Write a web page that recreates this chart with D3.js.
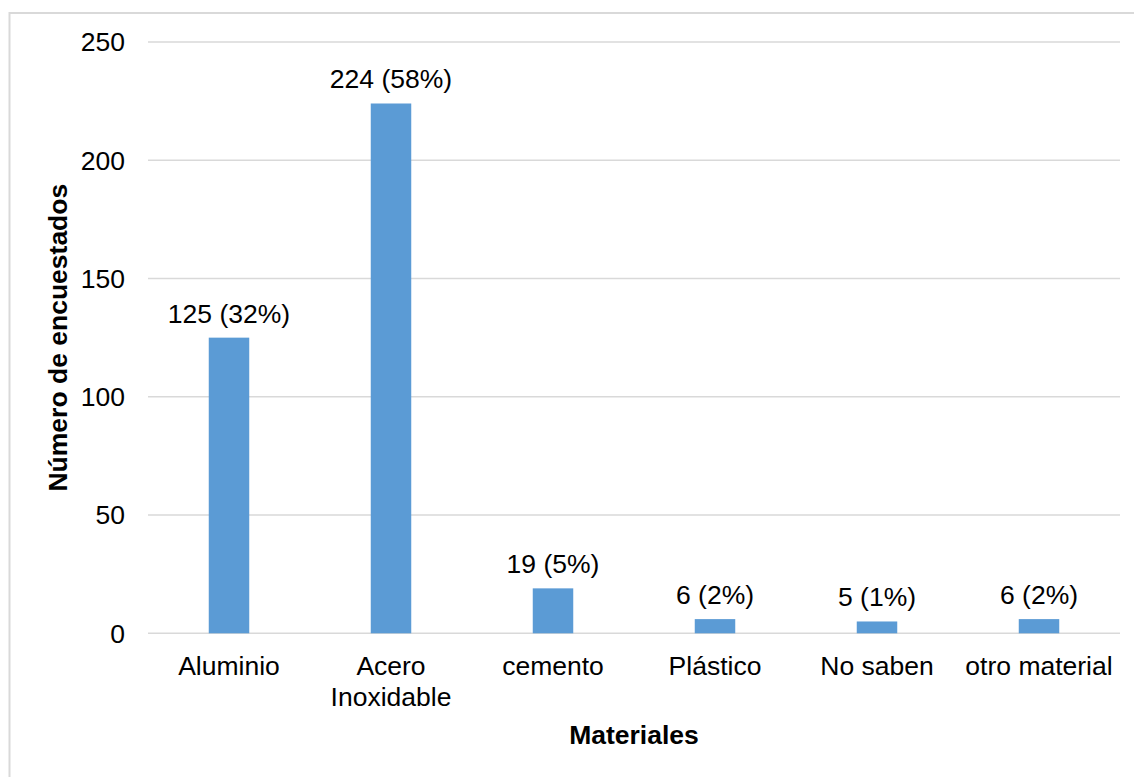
<!DOCTYPE html>
<html><head><meta charset="utf-8">
<script src="https://cdn.jsdelivr.net/npm/d3@7"></script>
<style>
html,body{margin:0;padding:0;background:#fff;}
svg{display:block;font-family:"Liberation Sans",Arial,sans-serif;}
</style></head>
<body>
<script>
const categories = [["Aluminio"], ["Acero", "Inoxidable"], ["cemento"], ["Plástico"], ["No saben"], ["otro material"]];
const values = [125, 224, 19, 6, 5, 6];
const labels = ["125 (32%)", "224 (58%)", "19 (5%)", "6 (2%)", "5 (1%)", "6 (2%)"];
const yTicks = [0, 50, 100, 150, 200, 250];
const yTitle = "Número de encuestados";
const xTitle = "Materiales";

(function () {
const W = 1134, H = 777;
const pL = 148, pR = 1120, pT = 42, pB = 633.3;
const svg = d3.select("body").append("svg").attr("width", W).attr("height", H);

svg.append("rect").attr("x", 9.5).attr("y", 13).attr("width", 1140).attr("height", 780)
  .attr("fill", "#fff").attr("stroke", "#d9d9d9").attr("stroke-width", 2);

const idx = categories.map((d, i) => i);
const x = d3.scaleBand().domain(idx).range([pL, pR]).padding(0);
const y = d3.scaleLinear().domain([0, 250]).range([pB, pT]);
const fs = 26.5;

svg.append("g").selectAll("line").data(yTicks).join("line")
  .attr("x1", pL).attr("x2", pR)
  .attr("y1", d => y(d)).attr("y2", d => y(d))
  .attr("stroke", "#d9d9d9").attr("stroke-width", 1.5);

svg.append("g").selectAll("text").data(yTicks).join("text")
  .attr("x", 125).attr("y", d => y(d)).attr("dy", "0.35em")
  .attr("text-anchor", "end").attr("font-size", fs).attr("fill", "#000")
  .text(d => d);

const bw = x.bandwidth() * 0.25;
svg.append("g").selectAll("rect").data(values).join("rect")
  .attr("x", (d, i) => x(i) + x.bandwidth() / 2 - bw / 2)
  .attr("y", d => y(d)).attr("width", bw).attr("height", d => y(0) - y(d))
  .attr("fill", "#5b9bd5");

svg.append("g").selectAll("text").data(values).join("text")
  .attr("x", (d, i) => x(i) + x.bandwidth() / 2)
  .attr("y", d => y(d) - 15)
  .attr("text-anchor", "middle").attr("font-size", fs).attr("fill", "#000")
  .text((d, i) => labels[i]);

const xl = svg.append("g").selectAll("text").data(categories).join("text")
  .attr("x", (d, i) => x(i) + x.bandwidth() / 2)
  .attr("y", 675).attr("text-anchor", "middle").attr("font-size", fs).attr("fill", "#000");
xl.selectAll("tspan").data(d => d).join("tspan")
  .attr("x", function () { return this.parentNode.getAttribute("x"); })
  .attr("dy", (d, j) => j === 0 ? 0 : 31)
  .text(d => d);

svg.append("text").attr("x", (pL + pR) / 2).attr("y", 744)
  .attr("text-anchor", "middle").attr("font-size", fs).attr("font-weight", "bold").attr("fill", "#000")
  .text(xTitle);
svg.append("text").attr("transform", `translate(67,${(pT + pB) / 2}) rotate(-90)`)
  .attr("text-anchor", "middle").attr("font-size", fs).attr("font-weight", "bold").attr("fill", "#000")
  .text(yTitle);
})();
</script>
</body></html>
